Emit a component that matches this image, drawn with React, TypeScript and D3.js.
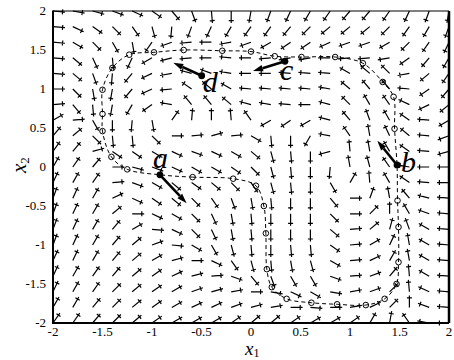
import * as d3 from 'd3';

// grid of the direction field (x1 across, x2 from top to bottom)
const gridX = [-2, -1.8, -1.6, -1.4, -1.2, -1, -0.8, -0.6, -0.4, -0.2, 0, 0.2, 0.4, 0.6, 0.8, 1, 1.2, 1.4, 1.6, 1.8, 2];
const gridY = [2, 1.8, 1.6, 1.4, 1.2, 1, 0.8, 0.6, 0.4, 0.2, 0, -0.2, -0.4, -0.6, -0.8, -1, -1.2, -1.4, -1.6, -1.8, -2];

// direction of the field at each grid point, degrees (0 = +x1, 90 = +x2)
const fieldAngle: number[][] = [
  [-5, -10, -15, -20, -25, -35, -50, -70, -85, -90, -100, -110, -115, -120, -125, -130, -130, -125, -115, -110, -100],
  [-5, -25, -35, -45, -55, -75, -95, -110, -115, -120, -125, -125, -130, -135, -140, -140, -140, -135, -125, -120, -110],
  [-5, -30, -45, -60, -80, -125, -160, -175, 180, -170, -160, -150, -145, -145, -155, -160, -160, -150, -135, -125, -115],
  [-5, -40, -65, -85, -115, -150, -165, -175, 180, 175, 180, -175, -170, -170, 180, -175, -175, -170, -145, -130, -120],
  [-5, -40, -70, -95, -130, -155, -170, 165, 160, 170, 180, 180, 175, 175, 175, 150, 140, 135, -170, -140, -125],
  [0, -45, -80, -100, -130, -155, -175, 145, 140, 150, 175, 175, 175, 175, 170, 140, 130, 130, 175, -145, -130],
  [5, -50, -85, -100, -120, -145, 170, 130, 130, 140, 165, 170, 175, 180, 165, 135, 120, 125, 155, -155, -140],
  [30, 5, -60, -90, -95, -80, 55, 85, 90, 95, 125, -150, -145, -150, 165, 130, 110, 120, 145, 175, -150],
  [50, 40, -45, -85, -85, -45, 0, 5, 15, 5, -30, -85, -90, -120, 170, 125, 100, 115, 140, 175, -160],
  [55, 50, 15, -35, -35, -30, -25, -20, -25, -30, -40, -75, -85, -90, -165, 95, 100, 120, 145, 175, -165],
  [60, 55, 50, 0, -15, -20, -25, -30, -30, -35, -45, -75, -85, -90, -95, 100, 105, 125, 170, 180, 180],
  [65, 60, 55, 5, -20, -30, -40, -35, -40, -45, -55, -75, -85, -90, -60, 60, 95, 120, 145, 175, 180],
  [70, 65, 60, 25, -25, -35, -40, -45, -55, -70, -80, -85, -90, -90, -50, 0, 70, 100, 130, 165, 175],
  [70, 65, 60, 40, 0, -25, -30, -45, -65, -80, -85, -90, -90, -90, -45, 0, 45, 90, 120, 160, 175],
  [70, 65, 60, 50, 30, -5, -25, -45, -65, -80, -85, -90, -90, -90, -40, 5, 40, 75, 110, 150, 175],
  [70, 65, 60, 50, 40, 20, -5, -30, -60, -75, -85, -90, -85, -85, -35, 5, 30, 65, 100, 150, 175],
  [65, 65, 60, 50, 40, 30, 15, 0, -25, -55, -75, -85, -80, -75, -30, 5, 25, 60, 100, 150, 175],
  [65, 60, 55, 50, 40, 35, 25, 15, 5, -20, -50, -70, -60, -60, -20, 5, 20, 50, 95, 150, 175],
  [65, 60, 55, 45, 40, 35, 30, 20, 15, 10, 0, -10, -25, -30, -10, 10, 20, 45, 95, 155, 175],
  [60, 60, 50, 45, 40, 35, 30, 25, 25, 20, 15, 10, 0, -5, 0, 10, 25, 45, 90, 160, 175],
  [55, 55, 50, 45, 40, 35, 30, 30, 30, 35, 40, 40, 35, 30, 30, 35, 60, 80, 125, 170, 180],
];

// sampled closed orbit, starting at a
const orbitX = [-0.92, -0.59, -0.18, 0.05, 0.13, 0.15, 0.16, 0.21, 0.36, 0.61, 0.87, 1.16, 1.35, 1.47, 1.49, 1.49, 1.48, 1.475, 1.45, 1.44, 1.33, 1.13, 0.85, 0.51, 0.24, 0.0, -0.29, -0.68, -0.98, -1.23, -1.4, -1.5, -1.5, -1.5, -1.41, -1.25];
const orbitY = [-0.1, -0.13, -0.15, -0.24, -0.5, -0.85, -1.31, -1.54, -1.69, -1.74, -1.76, -1.77, -1.69, -1.5, -1.22, -0.77, -0.43, 0.026, 0.49, 0.9, 1.09, 1.33, 1.41, 1.41, 1.42, 1.48, 1.49, 1.5, 1.47, 1.44, 1.27, 0.99, 0.68, 0.46, 0.13, -0.03];
const orbitFilled = [0, 17]; // a and b sit on the orbit

// labelled states and their velocity arrows
const pointNames = ['a', 'b', 'c', 'd'];
const pointX = [-0.92, 1.475, 0.343, -0.498];
const pointY = [-0.1, 0.026, 1.355, 1.17];
const pointTipX = [-0.65, 1.276, 0.02, -0.785];
const pointTipY = [-0.465, 0.337, 1.23, 1.337];

const xTicks = [-2, -1.5, -1, -0.5, 0, 0.5, 1, 1.5, 2];
const yTicks = [-2, -1.5, -1, -0.5, 0, 0.5, 1, 1.5, 2];

const W = 454;
const H = 360;
const margin = { top: 11, right: 5, bottom: 37, left: 53 };
const labelOffset = [[-7, -7], [4, 7], [-5, 19], [1, 16]];
const serif = '"Liberation Serif", "Times New Roman", serif';

export default function App() {
  const x = d3.scaleLinear().domain([-2, 2]).range([margin.left, W - margin.right]);
  const y = d3.scaleLinear().domain([-2, 2]).range([H - margin.bottom, margin.top]);

  const L = 12;
  const field: string[] = [];
  gridY.forEach((gy, j) => {
    gridX.forEach((gx, i) => {
      const a = (fieldAngle[j][i] * Math.PI) / 180;
      const dx = Math.cos(a);
      const dy = -Math.sin(a);
      const x0 = x(gx);
      const y0 = y(gy);
      const cx = x0 + dx * L * 0.8;
      const cy = y0 + dy * L * 0.8;
      field.push(
        `M${x0},${y0}L${x0 + dx * L},${y0 + dy * L}` +
          `M${cx - dy * 2.5},${cy + dx * 2.5}L${cx + dy * 2.5},${cy - dx * 2.5}`
      );
    });
  });

  const orbitPts: [number, number][] = orbitX.map((v, i) => [x(v), y(orbitY[i])]);
  const orbitPath = d3.line().curve(d3.curveCatmullRomClosed.alpha(0.5))(orbitPts) ?? '';

  const bold = pointNames.map((_, k) => {
    const x0 = x(pointX[k]);
    const y0 = y(pointY[k]);
    const x1 = x(pointTipX[k]);
    const y1 = y(pointTipY[k]);
    const len = Math.hypot(x1 - x0, y1 - y0);
    const ux = (x1 - x0) / len;
    const uy = (y1 - y0) / len;
    const hl = 10;
    const hw = 3.2;
    const bx = x1 - ux * hl;
    const by = y1 - uy * hl;
    return {
      x0, y0, bx, by,
      head: `M${x1},${y1}L${bx - uy * hw},${by + ux * hw}L${bx + uy * hw},${by - ux * hw}Z`,
    };
  });

  return (
    <svg width={W} height={H} style={{ position: 'absolute', left: 0, top: 0, background: '#fff' }}>
      <path d={field.join('')} stroke="#000" strokeWidth={1.2} fill="none" />

      <path d={orbitPath} stroke="#000" strokeWidth={1} strokeDasharray="4,3" fill="none" />
      {orbitPts.map((p, i) =>
        orbitFilled.includes(i) ? null : (
          <circle key={i} cx={p[0]} cy={p[1]} r={2.8} fill="none" stroke="#000" strokeWidth={1} />
        )
      )}

      {bold.map((b, k) => (
        <g key={pointNames[k]}>
          <line x1={b.x0} y1={b.y0} x2={b.bx} y2={b.by} stroke="#000" strokeWidth={2.6} />
          <path d={b.head} fill="#000" />
          <circle cx={b.x0} cy={b.y0} r={3.4} fill="#000" />
          <text
            x={b.x0 + labelOffset[k][0]}
            y={b.y0 + labelOffset[k][1]}
            fontFamily={serif}
            fontStyle="italic"
            fontSize={30}
          >
            {pointNames[k]}
          </text>
        </g>
      ))}

      {/* frame */}
      <line x1={x(-2)} y1={y(2)} x2={x(2)} y2={y(2)} stroke="#000" strokeWidth={1} />
      <line x1={x(2)} y1={y(2)} x2={x(2)} y2={y(-2)} stroke="#000" strokeWidth={2.5} />
      <line x1={x(-2)} y1={y(2) - 0.5} x2={x(-2)} y2={y(-2) + 1} stroke="#000" strokeWidth={2} />
      <line x1={x(-2) - 1} y1={y(-2)} x2={x(2)} y2={y(-2)} stroke="#000" strokeWidth={2} />

      {xTicks.map((t) => (
        <text key={`x${t}`} x={x(t)} y={H - margin.bottom + 13} textAnchor="middle" fontFamily={serif} fontSize={13}>
          {t}
        </text>
      ))}
      {yTicks.map((t) => (
        <text key={`y${t}`} x={margin.left - 7} y={y(t) + 4} textAnchor="end" fontFamily={serif} fontSize={13}>
          {t}
        </text>
      ))}

      <text x={x(0) - 6} y={355} fontFamily={serif} fontSize={19}>
        <tspan fontStyle="italic">x</tspan>
        <tspan fontSize={12} dy={2}>1</tspan>
      </text>
      <text transform={`translate(26,${y(0) + 6}) rotate(-90)`} fontFamily={serif} fontSize={21}>
        <tspan fontStyle="italic">x</tspan>
        <tspan fontSize={13} dy={3}>2</tspan>
      </text>
    </svg>
  );
}
